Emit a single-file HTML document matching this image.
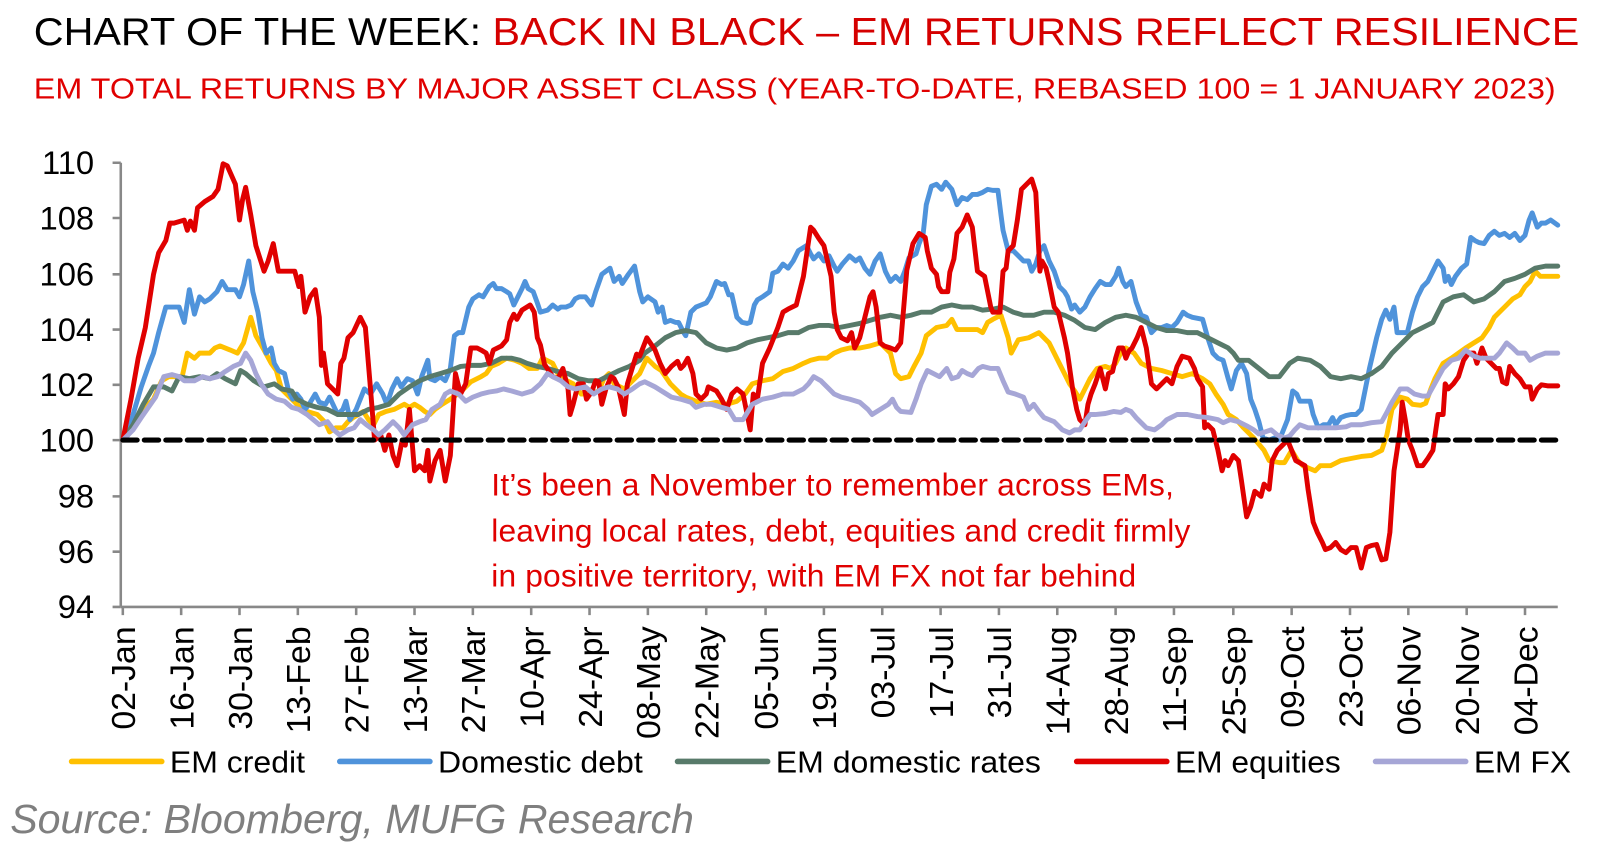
<!DOCTYPE html>
<html><head><meta charset="utf-8"><style>
html,body{margin:0;padding:0;background:#fff;}
svg{display:block;font-family:"Liberation Sans",Arial,sans-serif;}
</style></head><body>
<svg width="1604" height="845" viewBox="0 0 1604 845" xmlns="http://www.w3.org/2000/svg">
<g transform="scale(1.0235)">
<text x="33" y="44" font-size="38" textLength="1510" lengthAdjust="spacingAndGlyphs"><tspan fill="#000">CHART OF THE WEEK: </tspan><tspan fill="#d50000">BACK IN BLACK – EM RETURNS REFLECT RESILIENCE</tspan></text>
<text x="33" y="96" font-size="28" fill="#e00000" textLength="1487" lengthAdjust="spacingAndGlyphs">EM TOTAL RETURNS BY MAJOR ASSET CLASS (YEAR-TO-DATE, REBASED 100 = 1 JANUARY 2023)</text>
<g stroke="#888" stroke-width="2.5" fill="none">
<line x1="118" y1="159" x2="118" y2="593"/>
<line x1="118" y1="593" x2="1522" y2="593"/>
<path d="M110 159H118M110 213H118M110 268H118M110 322H118M110 376H118M110 430H118M110 485H118M110 539H118M110 593H118"/>
<path d="M120 593v8M177 593v8M234 593v8M291 593v8M348 593v8M405 593v8M462 593v8M519 593v8M576 593v8M633 593v8M690 593v8M748 593v8M805 593v8M862 593v8M919 593v8M976 593v8M1033 593v8M1090 593v8M1147 593v8M1205 593v8M1262 593v8M1319 593v8M1376 593v8M1433 593v8M1490 593v8"/>
</g>
<g font-size="32" fill="#000" text-anchor="end">
<text x="92" y="170">110</text><text x="92" y="224">108</text><text x="92" y="279">106</text><text x="92" y="333">104</text><text x="92" y="387">102</text><text x="92" y="441">100</text><text x="92" y="496">98</text><text x="92" y="550">96</text><text x="92" y="604">94</text>
</g>
<g font-size="33" fill="#000" text-anchor="end">
<text transform="translate(132,612) rotate(-90)">02-Jan</text>
<text transform="translate(189,612) rotate(-90)">16-Jan</text>
<text transform="translate(246,612) rotate(-90)">30-Jan</text>
<text transform="translate(303,612) rotate(-90)">13-Feb</text>
<text transform="translate(360,612) rotate(-90)">27-Feb</text>
<text transform="translate(417,612) rotate(-90)">13-Mar</text>
<text transform="translate(474,612) rotate(-90)">27-Mar</text>
<text transform="translate(531,612) rotate(-90)">10-Apr</text>
<text transform="translate(588,612) rotate(-90)">24-Apr</text>
<text transform="translate(645,612) rotate(-90)">08-May</text>
<text transform="translate(702,612) rotate(-90)">22-May</text>
<text transform="translate(760,612) rotate(-90)">05-Jun</text>
<text transform="translate(817,612) rotate(-90)">19-Jun</text>
<text transform="translate(874,612) rotate(-90)">03-Jul</text>
<text transform="translate(931,612) rotate(-90)">17-Jul</text>
<text transform="translate(988,612) rotate(-90)">31-Jul</text>
<text transform="translate(1045,612) rotate(-90)">14-Aug</text>
<text transform="translate(1102,612) rotate(-90)">28-Aug</text>
<text transform="translate(1159,612) rotate(-90)">11-Sep</text>
<text transform="translate(1217,612) rotate(-90)">25-Sep</text>
<text transform="translate(1274,612) rotate(-90)">09-Oct</text>
<text transform="translate(1331,612) rotate(-90)">23-Oct</text>
<text transform="translate(1388,612) rotate(-90)">06-Nov</text>
<text transform="translate(1445,612) rotate(-90)">20-Nov</text>
<text transform="translate(1502,612) rotate(-90)">04-Dec</text>
</g>
<g fill="none" stroke-width="4.8" stroke-linejoin="round" stroke-linecap="round">
<polyline stroke="#ffc000" points="120,430 130,415 140,400 150,390 158,372 165,368 172,368 178,368 183,345 190,350 195,345 205,345 210,340 215,338 225,342 232,345 238,335 245,310 250,328 258,342 265,355 270,362 275,380 280,385 285,390 290,395 295,400 300,402 310,405 318,413 322,422 328,418 335,418 340,412 345,408 350,405 355,402 360,410 365,415 370,405 377,402 385,400 395,395 400,398 405,395 410,398 415,402 420,405 425,400 432,395 440,390 450,383 455,378 460,373 470,368 475,365 480,358 487,355 495,350 503,352 510,355 517,360 525,360 530,350 540,355 545,365 550,370 560,375 568,385 575,385 585,382 590,370 595,365 600,375 610,380 615,375 625,365 632,350 640,358 646,362 655,375 665,385 670,388 680,392 690,395 700,393 710,395 720,392 728,385 735,375 745,372 755,370 765,363 775,360 785,355 792,352 800,350 808,350 815,345 822,342 830,340 840,340 850,338 860,335 865,340 870,345 875,365 880,370 888,368 893,358 900,345 905,328 915,320 925,318 930,312 935,322 945,322 955,322 960,325 965,315 970,312 978,308 985,330 988,345 995,332 1005,330 1015,325 1020,330 1025,335 1030,345 1035,355 1040,365 1045,375 1050,382 1055,390 1060,380 1065,370 1072,360 1080,358 1085,360 1090,355 1095,345 1100,340 1108,345 1115,355 1125,360 1135,362 1145,365 1155,368 1165,365 1175,370 1182,375 1188,385 1195,395 1200,405 1208,410 1215,418 1225,428 1235,440 1240,450 1250,452 1255,452 1262,440 1268,450 1273,455 1280,458 1285,460 1290,455 1300,455 1310,450 1320,448 1330,446 1340,445 1350,440 1355,425 1360,400 1368,388 1375,390 1380,395 1388,396 1393,394 1398,380 1402,370 1410,355 1418,350 1425,345 1432,340 1440,335 1448,330 1455,320 1460,310 1465,305 1470,300 1478,292 1485,288 1490,280 1495,275 1500,265 1505,270 1510,270 1522,270"/>
<polyline stroke="#4f93db" points="120,430 125,425 130,405 138,378 145,358 150,345 155,325 162,300 168,300 175,300 180,315 185,283 190,307 195,290 200,295 205,292 212,285 217,275 222,283 230,283 234,290 238,278 243,255 247,285 252,305 256,330 260,345 265,340 268,355 272,362 278,365 282,382 286,390 290,385 294,390 298,400 302,395 308,385 312,393 318,395 322,388 330,405 335,400 338,392 342,410 348,400 352,390 356,380 362,385 368,375 374,385 378,395 383,380 388,370 392,378 398,370 403,372 408,385 412,368 418,352 420,370 425,372 430,368 435,372 440,360 444,328 448,325 452,325 458,300 462,292 468,288 472,290 478,280 482,277 485,282 490,282 495,285 498,287 502,298 505,292 510,282 513,275 516,282 521,285 525,296 528,305 535,303 540,298 545,302 548,300 553,300 558,298 562,292 566,290 572,290 578,298 582,285 588,268 592,265 596,262 600,275 605,270 608,277 614,268 620,260 625,285 628,295 633,290 640,295 643,305 647,300 650,315 655,313 660,315 663,315 668,325 670,328 675,305 680,300 685,298 690,296 694,290 700,275 705,278 708,277 712,288 715,288 720,310 725,315 730,316 733,315 737,298 740,293 745,290 752,285 755,267 760,265 765,258 770,262 775,255 780,245 788,240 792,248 795,253 800,248 805,255 810,250 815,260 818,265 823,258 830,250 836,255 840,252 845,262 850,268 855,255 860,248 865,265 870,275 875,270 880,275 884,265 888,252 895,248 898,238 902,228 905,200 910,182 915,180 920,185 924,178 930,185 935,200 940,193 945,195 950,190 955,190 960,188 965,185 970,186 975,186 978,210 980,225 985,245 990,245 995,250 1000,255 1005,255 1008,265 1012,258 1016,245 1020,240 1025,255 1030,265 1035,280 1040,285 1043,290 1047,302 1050,298 1055,305 1060,300 1065,290 1070,282 1075,275 1080,278 1085,278 1090,270 1093,262 1097,275 1100,280 1105,275 1110,295 1115,308 1120,310 1125,325 1130,320 1135,320 1140,318 1145,320 1150,315 1156,305 1160,308 1165,310 1175,312 1180,330 1185,345 1190,350 1195,352 1200,370 1203,380 1208,362 1213,355 1218,365 1222,390 1226,400 1230,412 1234,428 1240,430 1245,428 1250,430 1258,410 1263,382 1267,385 1270,392 1275,392 1280,392 1283,405 1288,418 1293,415 1298,415 1302,408 1305,415 1310,408 1315,406 1320,405 1325,405 1330,400 1335,375 1338,360 1345,330 1350,312 1354,303 1358,312 1362,300 1365,325 1370,325 1375,325 1380,305 1385,290 1390,280 1395,275 1400,265 1405,255 1410,262 1412,275 1415,270 1418,278 1422,270 1428,262 1433,258 1437,232 1441,235 1445,237 1450,238 1455,230 1460,226 1465,230 1470,228 1475,232 1480,228 1485,235 1490,230 1494,215 1497,208 1502,222 1506,218 1510,218 1515,215 1522,220"/>
<polyline stroke="#587a6a" points="120,430 130,415 140,395 150,378 160,378 168,382 175,368 185,370 195,368 205,370 212,365 220,370 230,375 235,362 240,365 248,372 258,378 268,375 275,380 285,382 290,390 300,395 310,398 320,400 330,405 340,405 350,405 360,400 370,398 380,395 390,385 400,378 410,372 420,368 430,365 440,362 450,358 460,357 470,357 480,355 490,350 500,350 508,352 515,355 525,358 535,360 545,363 555,365 565,370 575,372 585,372 595,367 605,362 615,358 625,352 630,345 640,338 650,330 660,325 670,323 680,325 690,335 700,340 710,342 720,340 730,335 740,332 750,330 760,328 770,325 780,325 790,320 800,318 810,318 820,320 830,318 840,316 850,313 860,310 870,308 880,310 890,308 900,305 910,305 920,300 930,298 940,300 950,300 960,303 970,302 980,300 990,305 1000,308 1010,308 1020,305 1030,305 1040,308 1050,313 1060,320 1070,322 1080,315 1090,310 1100,308 1110,310 1120,315 1130,320 1140,323 1150,323 1160,325 1170,325 1180,330 1190,335 1200,340 1205,345 1210,352 1220,352 1230,360 1240,368 1250,368 1260,355 1268,350 1280,352 1290,358 1300,368 1310,370 1320,368 1330,370 1340,365 1350,358 1360,345 1370,335 1380,325 1390,320 1400,315 1410,295 1420,290 1430,288 1440,295 1450,292 1460,285 1470,275 1480,272 1490,268 1500,262 1510,260 1522,260"/>
<polyline stroke="#e00000" points="120,430 128,390 135,350 142,320 150,268 155,247 162,235 166,218 170,218 180,215 183,225 186,216 190,225 193,203 200,197 208,192 213,185 218,160 222,162 230,180 234,215 237,195 240,183 245,210 250,240 258,265 262,255 267,238 272,265 280,265 288,265 292,280 294,270 298,305 303,290 308,283 312,310 314,357 316,345 320,375 330,385 333,355 336,350 340,330 345,325 352,310 357,320 362,380 366,430 372,425 376,440 380,425 384,445 388,455 390,445 393,430 396,435 400,400 405,460 410,455 415,460 418,440 420,470 425,450 430,440 435,470 440,445 445,365 450,385 455,375 460,340 466,340 470,342 475,345 478,355 482,342 490,338 495,332 498,315 502,307 505,312 510,303 518,298 522,305 525,330 528,337 532,356 540,368 545,370 550,360 555,380 557,405 560,395 565,375 570,375 573,390 578,383 582,372 585,373 588,395 592,380 597,368 600,370 604,378 610,405 613,375 617,362 622,346 625,348 632,330 640,342 645,355 650,365 656,358 662,353 665,360 668,357 672,350 677,365 680,385 685,390 690,385 692,378 700,382 705,390 710,400 715,385 720,380 726,385 730,405 733,420 736,385 740,390 745,355 752,340 756,330 760,320 765,305 770,302 778,298 785,270 792,222 795,225 800,233 805,240 812,270 815,305 818,322 822,330 828,333 832,325 835,340 840,330 845,310 850,290 853,285 856,300 860,335 864,338 870,340 875,342 880,335 883,300 886,264 892,238 898,228 904,232 906,245 910,262 915,268 917,280 920,285 926,285 928,266 932,253 935,228 940,222 945,210 950,222 955,265 962,270 965,285 968,300 970,305 977,305 980,265 983,262 985,245 990,240 994,215 998,185 1003,180 1008,175 1012,188 1016,265 1018,255 1022,262 1025,275 1028,290 1030,300 1034,305 1040,330 1043,345 1048,380 1052,400 1055,410 1060,415 1063,395 1066,385 1070,375 1075,360 1080,380 1083,365 1087,363 1090,350 1093,340 1097,340 1100,350 1103,343 1106,340 1111,330 1115,320 1120,340 1125,375 1130,380 1135,375 1140,370 1145,375 1150,358 1155,348 1162,350 1167,360 1170,370 1175,378 1177,418 1180,415 1185,420 1190,440 1194,460 1197,450 1200,455 1205,445 1210,450 1213,470 1218,505 1222,495 1226,480 1232,485 1235,473 1240,478 1243,450 1248,440 1258,430 1262,440 1266,450 1275,455 1278,478 1283,510 1287,520 1292,530 1295,537 1300,535 1305,530 1310,537 1315,540 1320,535 1325,535 1330,555 1335,535 1340,533 1345,532 1350,547 1354,546 1358,520 1362,460 1368,420 1370,393 1373,410 1376,430 1380,440 1385,455 1390,455 1395,448 1400,440 1405,405 1410,405 1412,375 1415,380 1420,375 1425,368 1430,352 1435,345 1440,345 1443,355 1448,340 1452,350 1457,355 1462,360 1465,360 1468,373 1472,375 1475,358 1480,365 1485,370 1490,378 1495,378 1497,390 1502,380 1506,376 1512,377 1522,377"/>
<polyline stroke="#a6a6d6" points="120,430 130,420 138,408 145,398 152,388 160,368 168,366 175,368 180,372 185,372 190,372 198,368 205,370 213,368 220,363 228,358 235,355 240,345 245,352 250,365 255,375 262,385 270,390 278,392 285,398 292,400 300,405 306,410 312,415 320,412 326,420 332,425 340,420 346,418 352,410 358,415 365,420 370,425 376,420 384,412 390,418 395,425 403,415 410,412 416,410 422,400 430,395 435,385 440,382 448,385 455,392 462,388 470,385 478,383 485,382 492,380 500,382 510,385 520,382 528,375 535,365 540,368 548,372 555,378 562,380 572,378 580,385 588,380 595,378 603,380 610,385 618,380 625,375 630,373 640,378 648,383 656,388 665,390 675,393 680,398 688,395 695,395 705,398 712,400 718,410 726,410 735,395 745,390 755,388 765,385 775,385 785,380 790,375 795,368 802,372 808,378 815,385 822,388 830,390 840,393 848,400 852,405 860,400 868,395 872,390 876,398 880,402 890,403 895,390 900,375 906,362 912,365 918,368 925,360 930,370 936,368 940,362 945,365 950,367 956,360 960,358 968,360 975,360 980,372 985,383 992,385 1000,388 1005,400 1010,395 1015,402 1020,408 1025,410 1030,412 1038,420 1045,423 1050,420 1055,420 1060,412 1065,405 1070,405 1080,404 1088,402 1095,403 1100,400 1105,402 1110,408 1115,413 1120,418 1128,420 1135,415 1140,410 1150,405 1160,405 1170,407 1180,408 1190,410 1195,413 1202,410 1210,412 1218,416 1225,420 1230,424 1236,422 1242,420 1248,425 1255,428 1260,426 1265,420 1270,415 1278,418 1285,418 1295,418 1305,418 1315,417 1320,415 1330,415 1340,413 1350,412 1355,403 1360,393 1368,380 1375,380 1382,385 1390,387 1395,387 1400,378 1410,360 1418,352 1425,350 1432,342 1440,348 1446,350 1452,350 1460,350 1465,345 1472,335 1478,340 1483,345 1490,345 1495,352 1502,348 1510,345 1522,345"/>
</g>
<line x1="120" y1="430" x2="1522" y2="430" stroke="#000" stroke-width="5" stroke-dasharray="14,7" stroke-linecap="round"/>
<g font-size="31" fill="#e00000" lengthAdjust="spacingAndGlyphs">
<text x="480" y="484" textLength="667">It’s been a November to remember across EMs,</text>
<text x="480" y="529" textLength="683">leaving local rates, debt, equities and credit firmly</text>
<text x="480" y="573" textLength="630">in positive territory, with EM FX not far behind</text>
</g>
<g stroke-width="5.5" stroke-linecap="round">
<line x1="70" y1="744" x2="158" y2="744" stroke="#ffc000"/>
<line x1="332" y1="744" x2="420" y2="744" stroke="#4f93db"/>
<line x1="662" y1="744" x2="750" y2="744" stroke="#587a6a"/>
<line x1="1052" y1="744" x2="1140" y2="744" stroke="#e00000"/>
<line x1="1344" y1="744" x2="1432" y2="744" stroke="#a6a6d6"/>
</g>
<g font-size="30" fill="#000">
<text x="166" y="755" textLength="132" lengthAdjust="spacingAndGlyphs">EM credit</text>
<text x="428" y="755" textLength="200" lengthAdjust="spacingAndGlyphs">Domestic debt</text>
<text x="758" y="755" textLength="259" lengthAdjust="spacingAndGlyphs">EM domestic rates</text>
<text x="1148" y="755" textLength="162" lengthAdjust="spacingAndGlyphs">EM equities</text>
<text x="1440" y="755" textLength="95" lengthAdjust="spacingAndGlyphs">EM FX</text>
</g>
<text x="10" y="814" font-size="40" font-style="italic" fill="#7f7f7f" textLength="668" lengthAdjust="spacingAndGlyphs">Source: Bloomberg, MUFG Research</text>
</g>
</svg>
</body></html>
